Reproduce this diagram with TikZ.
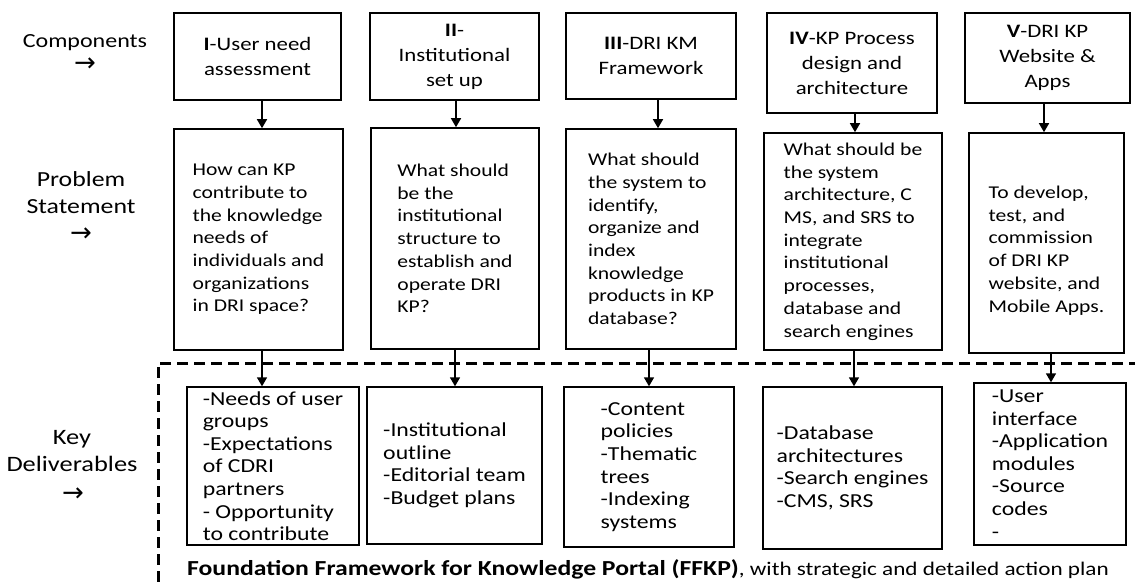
\documentclass[tikz,border=0pt]{standalone}
\usepackage{fontspec}
\setmainfont{Carlito}[FakeStretch=1.2]
\newfontfamily\symfont{DejaVu Sans}
\usetikzlibrary{arrows.meta}

\tikzset{
  box/.style={draw, line width=1.6pt, inner sep=0pt, align=left, text=black},
  topbox/.style={box, align=center, font=\fontsize{19}{25}\selectfont},
  probbox/.style={box, font=\fontsize{18}{22.7}\selectfont},
  delbox/.style={box, line width=1.4pt, font=\fontsize{19.8}{22.6}\selectfont},
  arr/.style={line width=1.6pt, -{Triangle[width=10pt,length=9pt]}},
  ffkpframe/.style={line width=3pt, dash pattern=on 11pt off 6pt},
  side/.style={align=center},
  sidearrow/.style={font=\symfont\fontsize{26}{26}\selectfont, inner sep=0pt,
    text height=9pt, text depth=0pt}
}

\begin{document}
\begin{tikzpicture}[x=1pt, y=-1pt]
\useasboundingbox (0,0) rectangle (1135,583);

% row labels
\node[side, font=\fontsize{20}{27}\selectfont] (lcomp) at (85,43) {Components};
\node[sidearrow] (acomp) at (85,67) {→};
\node[side, font=\fontsize{21.5}{27}\selectfont] (lprob) at (81,193) {Problem\\Statement};
\node[sidearrow] (aprob) at (81,237) {→};
\node[side, font=\fontsize{22}{27}\selectfont] (ldel) at (72,451) {Key\\Deliverables};
\node[sidearrow] (adel) at (73,497) {→};

% components
\node[topbox, minimum width=167pt, minimum height=87pt] (t1) at (257.5,56.5) {\textbf{I}-User need\\assessment};
\node[topbox, minimum width=169pt, minimum height=87pt] (t2) at (454.5,56.5) {\textbf{II}-\\Institutional\\set up};
\node[topbox, minimum width=170pt, minimum height=86pt] (t3) at (651,56) {\textbf{III}-DRI KM\\Framework};
\node[topbox, minimum width=170pt, minimum height=100pt] (t4) at (852,63) {\textbf{IV}-KP Process\\design and\\architecture};
\node[topbox, minimum width=165pt, minimum height=90pt] (t5) at (1047.5,58) {\textbf{V}-DRI KP\\Website \&\\Apps};

% problem statements
\node[probbox, minimum width=169pt, minimum height=221pt] (p1) at (258.5,239.5)
  {How can KP\\contribute to\\the knowledge\\needs of\\individuals and\\organizations\\in DRI space?};
\node[probbox, minimum width=168pt, minimum height=221pt] (p2) at (455,238.5)
  {What should\\be the\\institutional\\structure to\\establish and\\operate DRI\\KP?};
\node[probbox, minimum width=170pt, minimum height=220pt] (p3) at (651,239)
  {What should\\the system to\\identify,\\organize and\\index\\knowledge\\products in KP\\database?};
\node[probbox, minimum width=178pt, minimum height=217pt] (p4) at (853,241.5)
  {What should be\\the system\\architecture, C\\MS, and SRS to\\integrate\\institutional\\processes,\\database and\\search engines};
\node[probbox, minimum width=155pt, minimum height=220pt] (p5) at (1046.5,243)
  {\rule{0pt}{27.5pt}To develop,\\test, and\\commission\\of DRI KP\\website, and\\Mobile Apps.};

% frame around the deliverables
\draw[ffkpframe] (1140,363) -- (158,363) -- (158,590);

% key deliverables
\node[delbox, minimum width=172pt, minimum height=158pt] (d1) at (273,466)
  {-Needs of user\\groups\\-Expectations\\of CDRI\\partners\\- Opportunity\\to contribute};
\node[delbox, minimum width=175pt, minimum height=157pt] (d2) at (454.5,465.5)
  {-Institutional\\outline\\-Editorial team\\-Budget plans};
\node[delbox, minimum width=170pt, minimum height=160pt] (d3) at (649,467)
  {-Content\\policies\\-Thematic\\trees\\-Indexing\\systems};
\node[delbox, minimum width=179pt, minimum height=162pt] (d4) at (852.5,468)
  {-Database\\architectures\\-Search engines\\-CMS, SRS};
\node[delbox, minimum width=152pt, minimum height=162pt] (d5) at (1050,464)
  {-User\\interface\\-Application\\modules\\-Source\\codes\\-};

% component -> problem statement
\draw[arr] ([xshift=4.5pt]t1.south) -- ([xshift=4.5pt]t1.south |- p1.north);
\draw[arr] ([xshift=1.5pt]t2.south) -- ([xshift=1.5pt]t2.south |- p2.north);
\draw[arr] ([xshift=7pt]t3.south) -- ([xshift=7pt]t3.south |- p3.north);
\draw[arr] ([xshift=3pt]t4.south) -- ([xshift=3pt]t4.south |- p4.north);
\draw[arr] ([xshift=-3.5pt]t5.south) -- ([xshift=-3.5pt]t5.south |- p5.north);

% problem statement -> deliverables
\draw[arr] ([xshift=3.5pt]p1.south) -- ([xshift=3.5pt]p1.south |- d1.north);
\draw[arr] (p2.south) -- (p2.south |- d2.north);
\draw[arr] ([xshift=-2pt]p3.south) -- ([xshift=-2pt]p3.south |- d3.north);
\draw[arr] ([xshift=1pt]p4.south) -- ([xshift=1pt]p4.south |- d4.north);
\draw[arr] ([xshift=4.5pt]p5.south) -- ([xshift=4.5pt]p5.south |- d5.north);

% closing statement
\node[anchor=base west, inner sep=0pt, font=\fontsize{19.3}{23}\selectfont] (ffkp) at (187,575)
  {{\fontsize{21.4}{23}\selectfont\bfseries Foundation Framework for Knowledge Portal (FFKP)}, with strategic and detailed action plan};
\end{tikzpicture}
\end{document}
